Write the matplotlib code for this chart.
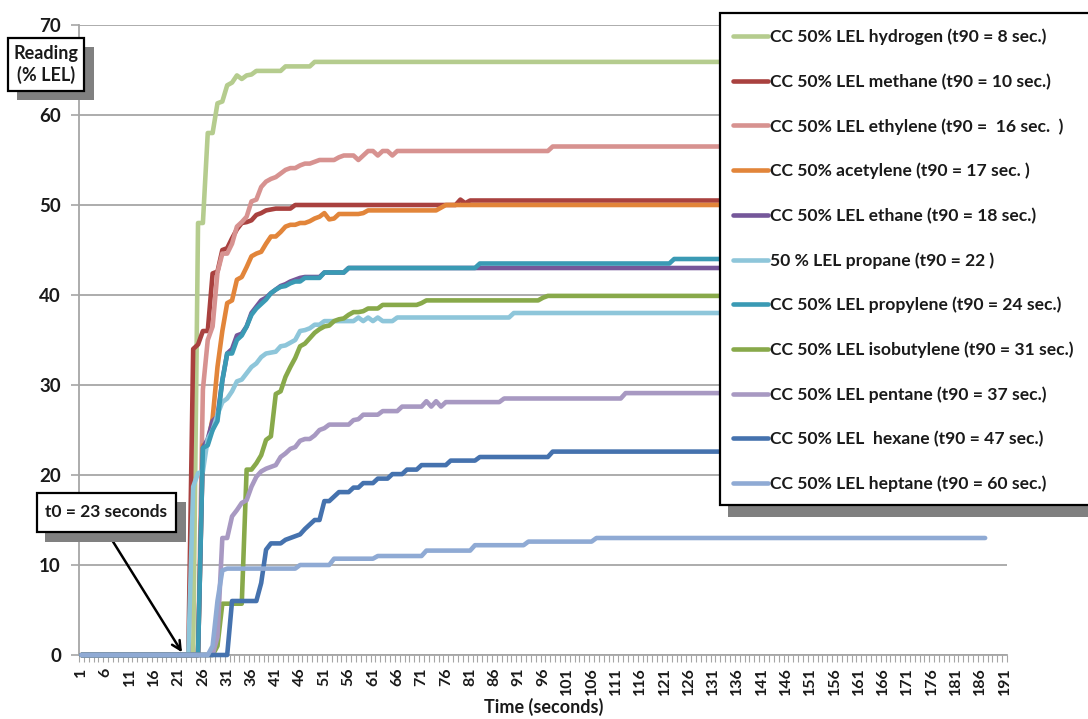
import matplotlib
matplotlib.use("Agg")
import matplotlib.pyplot as plt
from matplotlib.patches import Rectangle
from matplotlib.lines import Line2D
import numpy as np

plt.rcParams['font.family'] = ['Lato', 'DejaVu Sans']
plt.rcParams['font.weight'] = 'bold'

W, H = 1088, 719
N_CAT = 191          # categories on the axis (1 .. 191)
LAST = 187           # last recorded sample

categories = list(range(1, N_CAT + 1))
tick_labels = [str(c) for c in range(1, N_CAT + 1, 5)]

labels = [
    "CC 50% LEL hydrogen (t90 = 8 sec.)",
    "CC 50% LEL methane (t90 = 10 sec.)",
    "CC 50% LEL ethylene (t90 =  16 sec.  )",
    "CC 50% acetylene (t90 = 17 sec. )",
    "CC 50% LEL ethane (t90 = 18 sec.)",
    "50 % LEL propane (t90 = 22 )",
    "CC 50% LEL propylene (t90 = 24 sec.)",
    "CC 50% LEL isobutylene (t90 = 31 sec.)",
    "CC 50% LEL pentane (t90 = 37 sec.)",
    "CC 50% LEL  hexane (t90 = 47 sec.)",
    "CC 50% LEL heptane (t90 = 60 sec.)",
]
colors = ['#B5CC8E', '#A9413F', '#D79290', '#E2853A', '#75579A', '#8EC6DA',
          '#3A9AB4', '#88A94A', '#A899C2', '#4572AE', '#8FAAD4']

# (first category, reading) change points
hydrogen = [(1, 0), (25, 48), (27, 58), (29, 61.3), (30, 61.5), (31, 63.3), (32, 63.6),
            (33, 64.4), (34, 64), (35, 64.4), (36, 64.5), (37, 64.9), (43, 65.4), (49, 65.9)]
methane = [(1, 0), (24, 34), (25, 34.5), (26, 36), (28, 42.4), (29, 42.6), (30, 45),
           (31, 45.2), (32, 46.3), (33, 47.3), (34, 48), (35, 48.1), (36, 48.3), (37, 48.9),
           (38, 49.1), (39, 49.4), (40, 49.5), (41, 49.6), (45, 50), (79, 50.6), (80, 50.2),
           (81, 50.5)]
ethylene = [(1, 0), (26, 29.5), (27, 35), (28, 36.5), (29, 42.5), (30, 44.6), (32, 45.7),
            (33, 47.6), (34, 48.1), (35, 48.7), (36, 50.4), (37, 50.6), (38, 52), (39, 52.6),
            (40, 52.9), (41, 53.1), (42, 53.5), (43, 53.9), (44, 54.1), (46, 54.4), (47, 54.6),
            (49, 54.8), (50, 55), (54, 55.3), (55, 55.5), (58, 55), (59, 55.5), (60, 56),
            (62, 55.5), (63, 56), (65, 55.5), (66, 56), (98, 56.5)]
acetylene = [(1, 0), (26, 23.3), (27, 23.5), (28, 26.3), (29, 32), (30, 36), (31, 39.1),
             (32, 39.4), (33, 41.7), (34, 42), (35, 43.1), (36, 44.3), (37, 44.6), (38, 44.8),
             (39, 45.7), (40, 46.5), (42, 47), (43, 47.6), (44, 47.8), (46, 48), (48, 48.2),
             (49, 48.5), (50, 48.7), (51, 49.1), (52, 48.4), (53, 48.5), (54, 49), (59, 49.1),
             (60, 49.4), (75, 49.7), (76, 50)]
ethane = [(1, 0), (26, 23), (27, 24), (28, 26), (29, 26.5), (30, 30.5), (31, 33.5), (32, 34),
          (33, 35.5), (34, 35.7), (35, 36.5), (36, 38), (37, 38.7), (38, 39.4), (39, 39.7),
          (40, 40.2), (41, 40.6), (42, 41), (43, 41.2), (44, 41.5), (45, 41.7), (46, 41.9),
          (47, 42), (51, 42.5), (56, 43)]
propane = [(1, 0), (24, 18.7), (25, 20.2), (26, 20.4), (27, 24), (28, 25), (29, 26.7),
           (30, 28.1), (31, 28.5), (32, 29.3), (33, 30.4), (34, 30.6), (35, 31.3), (36, 32),
           (37, 32.4), (38, 33.1), (39, 33.5), (40, 33.6), (41, 33.7), (42, 34.3), (43, 34.4),
           (44, 34.7), (45, 35), (46, 36), (47, 36.1), (48, 36.3), (49, 36.7), (51, 37.1),
           (58, 37.5), (59, 37.1), (60, 37.5), (61, 37.1), (62, 37.5), (63, 37.1), (66, 37.5),
           (90, 38)]
propylene = [(1, 0), (26, 23), (27, 23.3), (28, 25), (29, 26), (30, 30.5), (31, 33.5),
             (33, 35), (34, 35.5), (35, 36.5), (36, 37.8), (37, 38.5), (38, 39), (39, 39.5),
             (40, 40.2), (41, 40.6), (42, 40.9), (43, 41), (44, 41.3), (45, 41.5), (47, 41.9),
             (51, 42.5), (56, 43), (83, 43.5), (123, 44)]
isobutylene = [(1, 0), (29, 1), (30, 5.7), (35, 20.6), (37, 21.3), (38, 22.2), (39, 23.9),
               (40, 24.3), (41, 29), (42, 29.3), (43, 30.9), (44, 32), (45, 33), (46, 34.3),
               (47, 34.6), (48, 35.2), (49, 35.8), (50, 36.2), (51, 36.5), (52, 36.6),
               (53, 37.1), (54, 37.3), (55, 37.4), (56, 37.8), (57, 38.1), (59, 38.2),
               (60, 38.5), (63, 38.9), (71, 39.1), (72, 39.4), (96, 39.7), (97, 39.9)]
pentane = [(1, 0), (29, 2), (30, 13), (32, 15.4), (33, 16.1), (34, 16.9), (35, 17.2),
           (36, 18.7), (37, 19.8), (38, 20.4), (39, 20.7), (40, 20.9), (41, 21.1), (42, 22),
           (43, 22.4), (44, 22.9), (45, 23.1), (46, 23.8), (47, 24), (49, 24.4), (50, 25),
           (51, 25.2), (52, 25.6), (57, 26.1), (58, 26.2), (59, 26.7), (63, 27.1), (67, 27.6),
           (72, 28.2), (73, 27.6), (74, 28.2), (75, 27.6), (76, 28.1), (88, 28.5), (113, 29.1)]
hexane = [(1, 0), (32, 6), (38, 8), (39, 11.7), (40, 12.4), (43, 12.8), (44, 13), (45, 13.2),
          (46, 13.4), (47, 14), (48, 14.5), (49, 15), (51, 17.1), (53, 17.6), (54, 18.1),
          (57, 18.6), (59, 19.1), (62, 19.6), (65, 20.1), (68, 20.6), (71, 21.1), (77, 21.6),
          (83, 22), (98, 22.6)]
heptane = [(1, 0), (28, 1), (29, 6), (30, 9.4), (31, 9.6), (46, 10), (53, 10.7), (62, 11),
           (72, 11.6), (82, 12.2), (93, 12.6), (107, 13)]

series = [hydrogen, methane, ethylene, acetylene, ethane, propane, propylene,
          isobutylene, pentane, hexane, heptane]


def expand(steps, last=LAST):
    out = []
    for i, (start, val) in enumerate(steps):
        end = steps[i + 1][0] if i + 1 < len(steps) else last + 1
        out += [val] * (end - start)
    return out


def fx(x):
    return x / W


def fy(y):
    return 1 - y / H


def rect(x0, y0, x1, y1, **kw):
    r = Rectangle((fx(x0), fy(y1)), fx(x1) - fx(x0), fy(y0) - fy(y1),
                  transform=fig.transFigure, **kw)
    fig.add_artist(r)
    return r


TXT = '#1A1A1A'
GRID = '#A6A6A6'

fig = plt.figure(figsize=(W / 100, H / 100), dpi=100)
ax = fig.add_axes([fx(79), fy(655), fx(1007) - fx(79), fy(25) - fy(655)])

for i, (steps, col) in enumerate(zip(series, colors)):
    vals = expand(steps)
    ax.plot(categories[:LAST], vals, color=col, lw=3.3, solid_joinstyle='round',
            solid_capstyle='round', clip_on=False, zorder=3 + i * 0.01)

ax.set_xlim(0.5, N_CAT + 0.5)
ax.set_ylim(0, 70)
ax.set_yticks(range(0, 71, 10))
ax.yaxis.grid(True, color=GRID, lw=1.3)
ax.set_axisbelow(True)
for s in ['top', 'right']:
    ax.spines[s].set_visible(False)
for s in ['left', 'bottom']:
    ax.spines[s].set_color(GRID)
    ax.spines[s].set_linewidth(1.3)

ax.tick_params(axis='y', length=6, color=GRID, width=1.2, labelsize=13.5, pad=7,
               labelcolor=TXT)
ax.set_xticks(range(1, N_CAT + 1, 5))
ax.set_xticklabels(tick_labels, rotation=90)
ax.set_xticks(np.arange(0.5, N_CAT + 1, 1), minor=True)
ax.tick_params(axis='x', which='major', length=0, labelsize=11.5, pad=9, labelcolor=TXT)
ax.tick_params(axis='x', which='minor', length=5, color=GRID, width=0.8)
for lab in ax.get_xticklabels() + ax.get_yticklabels():
    lab.set_fontweight('bold')

fig.text(fx(544), fy(707), "Time (seconds)", ha='center', va='center', fontsize=13,
         fontweight='bold', color=TXT)

# y-axis caption box with shadow
rect(17, 47, 94, 100, facecolor='#808080', edgecolor='none', zorder=5)
rect(8, 38, 84, 91, facecolor='white', edgecolor='black', lw=1.6, zorder=6)
fig.text(fx(46), fy(64.5), "Reading\n(% LEL)", ha='center', va='center', fontsize=13,
         fontweight='bold', color=TXT, linespacing=1.3, zorder=7)

# t0 callout
rect(45, 502, 186, 542, facecolor='#808080', edgecolor='none', zorder=5)
rect(37, 493, 176, 532, facecolor='white', edgecolor='black', lw=1.6, zorder=6)
fig.text(fx(106), fy(512), "t0 = 23 seconds", ha='center', va='center', fontsize=12.5,
         fontweight='bold', color=TXT, zorder=7)
ax.annotate('', xy=(21.7, 0.3), xycoords='data',
            xytext=(107, H - 532), textcoords='figure pixels',
            arrowprops=dict(arrowstyle='->', color='black', lw=1.8, mutation_scale=16,
                            shrinkA=0, shrinkB=0), zorder=8, annotation_clip=False)

# legend box with shadow
rect(728, 22, 1110, 517, facecolor='#808080', edgecolor='none', zorder=5)
rect(720, 13, 1100, 505, facecolor='white', edgecolor='black', lw=1.6, zorder=6)
for i, (lab, col) in enumerate(zip(labels, colors)):
    yy = 36 + i * 44.7
    fig.add_artist(Line2D([fx(733), fx(768)], [fy(yy), fy(yy)], color=col, lw=3.3,
                          solid_capstyle='round', transform=fig.transFigure, zorder=7))
    fig.text(fx(770), fy(yy + 1), lab, ha='left', va='center', fontsize=12.6,
             fontweight='bold', color=TXT, zorder=7)

fig.savefig('out.png', dpi=100)
